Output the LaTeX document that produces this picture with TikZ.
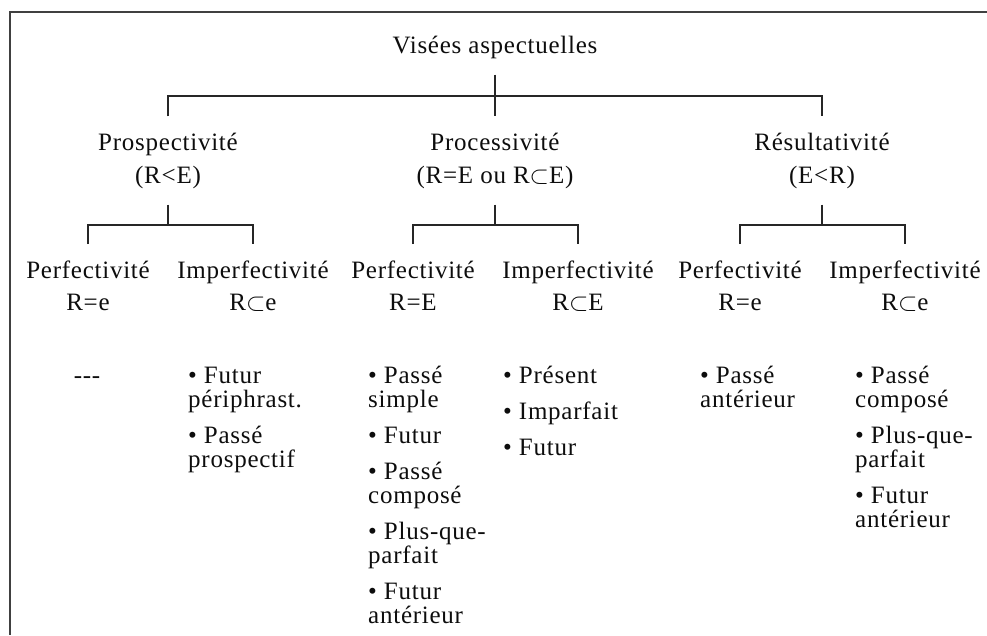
\documentclass[tikz,border=0pt]{standalone}
\usepackage{fontspec}
\setmainfont{Liberation Serif}[LetterSpace=3]
\usepackage{tikz}

\begin{document}
\begin{tikzpicture}[x=1pt,y=-1pt,
  every node/.style={font=\fontsize{25}{24}\selectfont, text=black!95},
  lbl/.style={anchor=base, align=center, inner xsep=2pt, inner ysep=16pt},
  liste/.style={anchor=base west, align=left, inner sep=0pt},
  lien/.style={line width=1.3pt, draw=black!85},
  cadre/.style={line width=1.6pt, draw=black!75}]
\useasboundingbox (0,0) rectangle (987,635);
\draw[cadre] (987,12) -- (10,12) -- (10,635);
\node[lbl] (root) at (495,53) {Visées aspectuelles};
\node[lbl] (prosp) at (168,183) {Prospectivité\\[9pt](R<E)};
\node[lbl] (proc) at (495,183) {Processivité\\[9pt](R=E ou R$\subset$E)};
\node[lbl] (result) at (822,183) {Résultativité\\[9pt](E<R)};
\node[lbl] (pperf) at (88,310) {Perfectivité\\[8pt]R=e};
\node[lbl] (pimp) at (253,310) {Imperfectivité\\[8pt]R$\subset$e};
\node[lbl] (mperf) at (413,310) {Perfectivité\\[8pt]R=E};
\node[lbl] (mimp) at (578,310) {Imperfectivité\\[8pt]R$\subset$E};
\node[lbl] (rperf) at (740,310) {Perfectivité\\[8pt]R=e};
\node[lbl] (rimp) at (905,310) {Imperfectivité\\[8pt]R$\subset$e};
\coordinate (haut) at (495,96);
\coordinate (pjoint) at (168,225);
\coordinate (mjoint) at (495,225);
\coordinate (rjoint) at (822,225);
\draw[lien] (root) -- (proc);
\draw[lien] (prosp) |- (haut) -| (result);
\draw[lien] (prosp) -- (pjoint);
\draw[lien] (proc) -- (mjoint);
\draw[lien] (result) -- (rjoint);
\draw[lien] (pperf) |- (pjoint) -| (pimp);
\draw[lien] (mperf) |- (mjoint) -| (mimp);
\draw[lien] (rperf) |- (rjoint) -| (rimp);
% les temps
\node[liste, anchor=base] (pperft) at (87,383) {-{}-{}-};
\node[liste] (pimpt) at (188,467) {• Futur\\périphrast.\\[12pt]• Passé\\prospectif};
\node[liste] (mperft) at (368,623) {• Passé\\simple\\[12pt]• Futur\\[12pt]• Passé\\composé\\[12pt]• Plus-que-\\parfait\\[12pt]• Futur\\antérieur};
\node[liste] (mimpt) at (503,455) {• Présent\\[12pt]• Imparfait\\[12pt]• Futur};
\node[liste] (rperft) at (700,407) {• Passé\\antérieur};
\node[liste] (rimpt) at (855,527) {• Passé\\composé\\[12pt]• Plus-que-\\parfait\\[12pt]• Futur\\antérieur};
\end{tikzpicture}
\end{document}
